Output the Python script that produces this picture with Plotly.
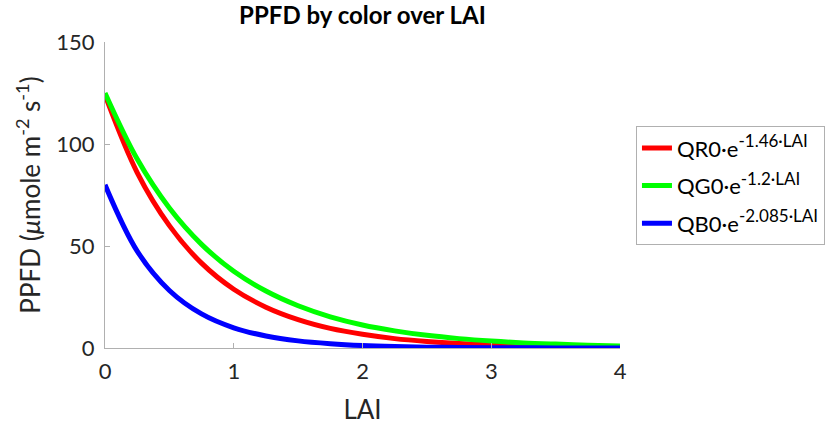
import plotly.graph_objects as go

lai = [0, 0.25, 0.5, 0.75, 1.0, 1.25, 1.5, 1.75, 2.0, 2.25, 2.5, 2.75, 3.0, 3.25, 3.5, 3.75, 4.0]
red_vals = [124, 86, 60, 41.6, 28.8, 20, 13.9, 9.6, 6.7, 4.6, 3.2, 2.2, 1.5, 1.1, 0.75, 0.5, 0.36]
green_vals = [125, 92.6, 68.6, 50.8, 37.6, 27.9, 20.7, 15.3, 11.3, 8.4, 6.2, 4.6, 3.4, 2.5, 1.9, 1.4, 1.0]
blue_vals = [80, 47.5, 28.2, 16.7, 9.9, 5.9, 3.5, 2.1, 1.2, 0.7, 0.4, 0.25, 0.15, 0.1, 0.05, 0.03, 0.02]
base = ["QR0·e", "QG0·e", "QB0·e"]
exps = ["-1.46·LAI", "-1.2·LAI", "-2.085·LAI"]
colors = ["#ff0000", "#00ff00", "#0000ff"]

fig = go.Figure()
for i, (vals, b, e, c) in enumerate(zip([red_vals, green_vals, blue_vals], base, exps, colors)):
    name = f"{b}<sup><span style='font-size:17px'>{e}</span></sup>"
    fig.add_trace(go.Scatter(x=lai, y=vals, mode="lines", name=name, legendgroup=f"g{i}",
                             line=dict(color=c, width=5, shape="spline")))

font = "Lato, 'Open Sans', sans-serif"
fig.update_layout(
    width=832, height=425,
    margin=dict(l=105, r=212, t=42, b=77, autoexpand=False),
    plot_bgcolor="white", paper_bgcolor="white",
    font=dict(family=font, size=22, color="#262626"),
    title=dict(text="<b>PPFD by color over LAI</b>", x=(105 + 620) / 2 / 832, xanchor="center",
               y=1 - 16 / 425, yanchor="middle", font=dict(size=24, color="black")),
    xaxis=dict(range=[0, 4], tickvals=[0, 1, 2, 3, 4], showgrid=False, zeroline=False,
               showline=True, linecolor="#b0b0b0", linewidth=1, ticks="inside", ticklen=5,
               tickcolor="#b0b0b0", ticklabelstandoff=4, automargin=False,
               title=dict(text="LAI", standoff=18)),
    yaxis=dict(range=[0, 150], tickvals=[0, 50, 100, 150], showgrid=False, zeroline=False,
               showline=True, linecolor="#b0b0b0", linewidth=1, ticks="inside", ticklen=5,
               tickcolor="#b0b0b0", ticklabelstandoff=5, automargin=False,
               title=dict(text="PPFD (<i>μ</i>mole m<sup>-2</sup> s<sup>-1</sup>)", standoff=8)),
    legend=dict(x=1.031, y=0.725, xanchor="left", yanchor="top", bordercolor="#b0b0b0",
                borderwidth=1, font=dict(size=22, color="black"), itemwidth=30,
                traceorder="grouped", tracegroupgap=6),
    showlegend=True,
)
fig.write_html("out.html")
